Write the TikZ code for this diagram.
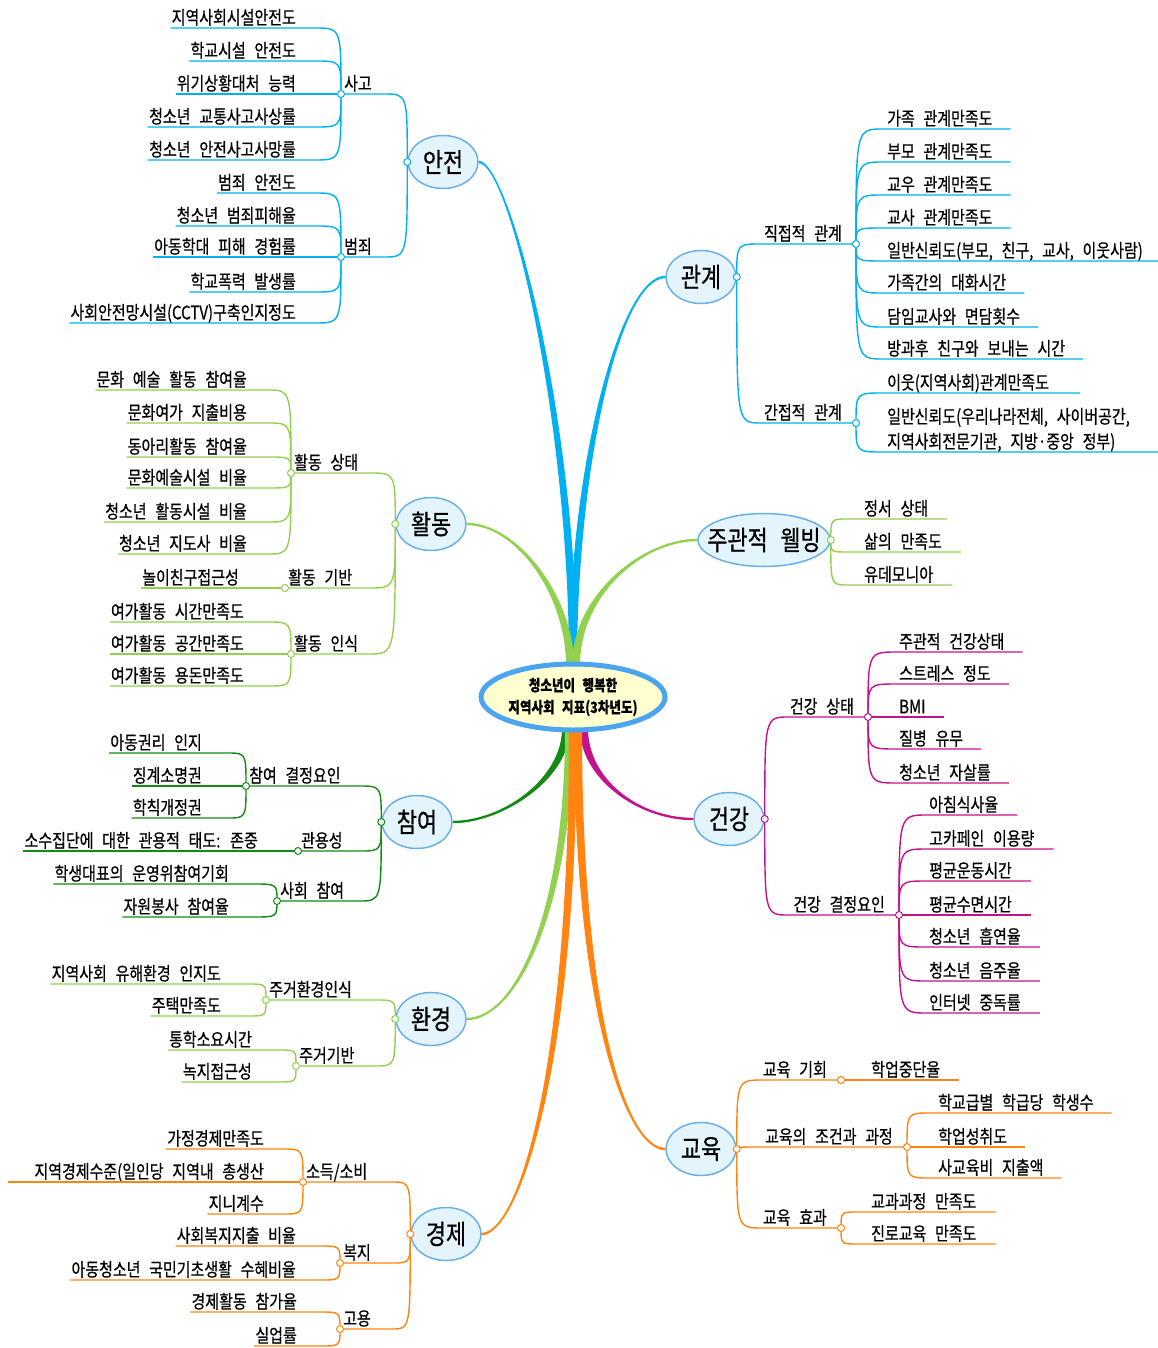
\documentclass[tikz,border=0pt]{standalone}
\usepackage{fontspec}
\setmainfont{Noto Sans CJK KR}[FakeStretch=0.81,WordSpace=2.6,FakeBold=0.6]
\usetikzlibrary{shapes.geometric,backgrounds}

\definecolor{sky}{HTML}{00B0F0}
\definecolor{leafgreen}{HTML}{92D050}
\definecolor{pine}{HTML}{138A13}
\definecolor{plum}{HTML}{C4128C}
\definecolor{amber}{HTML}{FF8412}
\definecolor{bubble}{HTML}{E4F4FD}
\definecolor{rim}{HTML}{6AAFE6}
\definecolor{cream}{HTML}{FFFFD0}
\definecolor{rootrim}{HTML}{4BA4F0}

\newcommand{\leafsize}{\fontsize{18.5}{25}\selectfont}

% tapered main branch: colour, start, end, start control, end control, side
\newcommand{\trunk}[6]{%
  \fill[#1] ([xshift=-4pt]#2) .. controls +#4 and +#5 .. ([yshift=(#6)*1.2pt]#3)
    -- ([yshift=(-1)*(#6)*1.2pt]#3) .. controls +#5 and +#4 .. ([xshift=4pt]#2) -- cycle;}

\tikzset{
  topic/.style={ellipse, draw=rim, line width=1.5pt, fill=bubble, inner xsep=1pt, inner ysep=1pt,
    minimum width=70pt, minimum height=53pt, font=\fontsize{27}{29}\selectfont},
  knot/.style={circle, draw=#1, fill=white, line width=1pt, inner sep=0pt, minimum size=7pt},
  twig/.style={draw=#1, line width=1.4pt},
  lleaf/.style={anchor=south east, inner xsep=1pt, inner ysep=1.5pt, text depth=2pt, font=\leafsize},
  rleaf/.style={lleaf, anchor=south west, align=left},
  llab/.style={lleaf, anchor=south west},
  rlab/.style={lleaf}
}

\begin{document}
\begin{tikzpicture}[x=1pt,y=-1pt]
	\useasboundingbox (0,0) rectangle (1158,1348);
	
	% centre
	\node[ellipse, draw=rootrim, line width=5pt, fill=cream, inner sep=0pt, minimum width=184pt, minimum height=66pt,
	  align=center, font=\fontsize{15.5}{22}\selectfont\bfseries] (root) at (573,697) {청소년이 행복한\\지역사회 지표(3차년도)};
	
	% topics
	\node[topic] (anjeon) at (443,162) {안전};
	\node[topic] (gwangye) at (701,277) {관계};
	\node[topic] (hwaldong) at (431,524) {활동};
	\node[topic, inner xsep=-10pt] (wellbeing) at (764,540) {주관적 웰빙};
	\node[topic] (chamyeo) at (417,822) {참여};
	\node[topic] (geongang) at (729,819) {건강};
	\node[topic] (hwangyeong) at (431,1019) {환경};
	\node[topic] (gyoyuk) at (701,1149) {교육};
	\node[topic] (gyeongje) at (446,1234) {경제};
	
	% knots on the topics
	\node[knot=sky] (anjeon-k) at (anjeon.west) {};
	\node[knot=sky] (gwangye-k) at (gwangye.east) {};
	\node[knot=leafgreen] (hwaldong-k) at (hwaldong.west) {};
	\node[knot=leafgreen] (wellbeing-k) at (wellbeing.east) {};
	\node[knot=pine] (chamyeo-k) at (chamyeo.west) {};
	\node[knot=plum] (geongang-k) at (geongang.east) {};
	\node[knot=leafgreen] (hwangyeong-k) at (hwangyeong.west) {};
	\node[knot=amber] (gyoyuk-k) at (gyoyuk.east) {};
	\node[knot=amber] (gyeongje-k) at (gyeongje.west) {};
	
	% knots of the sub-topics
	\node[knot=sky] (sago) at (341,94) {};
	\node[knot=sky] (beomjoe) at (341,257) {};
	\node[knot=sky] (jikjeop) at (856,244) {};
	\node[knot=sky] (ganjeop) at (856,423) {};
	\node[knot=leafgreen] (sangtae) at (291,473) {};
	\node[knot=leafgreen] (giban) at (285,588) {};
	\node[knot=leafgreen] (insik) at (291,654) {};
	\node[knot=pine] (gyeoljeong) at (246,786) {};
	\node[knot=pine] (gwanyong) at (298,851) {};
	\node[knot=pine] (sahoe) at (277,901) {};
	\node[knot=leafgreen] (jugeo) at (266,1000) {};
	\node[knot=leafgreen] (jugeogiban) at (296,1066) {};
	\node[knot=amber] (sodeuk) at (303,1182) {};
	\node[knot=amber] (bokji) at (340,1263) {};
	\node[knot=amber] (goyong) at (340,1329) {};
	\node[knot=plum] (gangsangtae) at (868,717) {};
	\node[knot=plum] (gangyoin) at (899,915) {};
	\node[knot=amber] (gihoe) at (841,1080) {};
	\node[knot=amber] (jogeon) at (907,1147) {};
	\node[knot=amber] (hyogwa) at (841,1228) {};
	
	% sub-topic labels
	\foreach \k/\t in {sago/사고, beomjoe/범죄, sangtae/활동 상태, giban/활동 기반, insik/활동 인식,
	  gyeoljeong/참여 결정요인, gwanyong/관용성, sahoe/사회 참여, jugeo/주거환경인식, jugeogiban/주거기반,
	  sodeuk/{소득/소비}, bokji/복지, goyong/고용}
	  \node[llab] (\k-t) at ([xshift=2pt]\k.center) {\t};
	\foreach \k/\t in {jikjeop/직접적 관계, ganjeop/간접적 관계, gangsangtae/건강 상태, gangyoin/건강 결정요인,
	  gihoe/교육 기회, jogeon/교육의 조건과 과정, hyogwa/교육 효과}
	  \node[rlab] (\k-t) at ([xshift=-13pt]\k.center) {\t};
	
	\begin{scope}[on background layer]
	% main branches
	\coordinate (up) at ([yshift=-4pt]root.north);
	\coordinate (up-l) at ([xshift=-3pt]up);
	\coordinate (up-r) at ([xshift=3pt]up);
	\coordinate (down) at ([yshift=4pt]root.south);
	\coordinate (down-l) at ([xshift=-7pt]down);
	\coordinate (down-m) at ([xshift=-4pt]down);
	\coordinate (down-r) at ([xshift=5pt]down);
	\coordinate (down-rr) at ([xshift=11pt]down);
	\trunk{sky}{up}{anjeon.east}{(0,-250)}{(30,0)}{-1}
	\trunk{sky}{up}{gwangye.west}{(0,-200)}{(-45,0)}{1}
	\trunk{leafgreen}{up-l}{hwaldong.east}{(0,-70)}{(50,0)}{-1}
	\trunk{leafgreen}{up-r}{wellbeing.west}{(0,-70)}{(-55,0)}{1}
	\trunk{pine}{down-l}{chamyeo.east}{(0,50)}{(50,0)}{1}
	\trunk{plum}{down-rr}{geongang.west}{(0,50)}{(-55,0)}{-1}
	\trunk{leafgreen}{down-m}{hwangyeong.east}{(0,180)}{(50,0)}{1}
	\trunk{amber}{down-r}{gyoyuk.west}{(0,280)}{(-40,0)}{-1}
	\trunk{amber}{down}{gyeongje.east}{(0,350)}{(35,0)}{1}
	
	% topic to sub-topic
	\foreach \s in {sago,beomjoe}
	  \draw[twig=sky] (anjeon-k.center) .. controls (anjeon-k |- \s) .. ([xshift=-23pt]anjeon-k |- \s) -- (\s.center);
	\foreach \s in {jikjeop,ganjeop}
	  \draw[twig=sky] (gwangye-k.center) .. controls (gwangye-k |- \s) .. ([xshift=24pt]gwangye-k |- \s) -- (\s.center);
	\foreach \s in {sangtae,giban,insik}
	  \draw[twig=leafgreen] (hwaldong-k.center) .. controls (hwaldong-k |- \s) .. ([xshift=-26pt]hwaldong-k |- \s) -- (\s.center);
	\foreach \s in {gyeoljeong,gwanyong,sahoe}
	  \draw[twig=pine] (chamyeo-k.center) .. controls (chamyeo-k |- \s) .. ([xshift=-22pt]chamyeo-k |- \s) -- (\s.center);
	\foreach \s in {jugeo,jugeogiban}
	  \draw[twig=leafgreen] (hwangyeong-k.center) .. controls (hwangyeong-k |- \s) .. ([xshift=-20pt]hwangyeong-k |- \s) -- (\s.center);
	\foreach \s in {sodeuk,bokji,goyong}
	  \draw[twig=amber] (gyeongje-k.center) .. controls (gyeongje-k |- \s) .. ([xshift=-18pt]gyeongje-k |- \s) -- (\s.center);
	\foreach \s in {gangsangtae,gangyoin}
	  \draw[twig=plum] (geongang-k.center) .. controls (geongang-k |- \s) .. ([xshift=24pt]geongang-k |- \s) -- (\s.center);
	\foreach \s in {gihoe,jogeon,hyogwa}
	  \draw[twig=amber] (gyoyuk-k.center) .. controls (gyoyuk-k |- \s) .. ([xshift=26pt]gyoyuk-k |- \s) -- (\s.center);
	
	% 안전
	\foreach \t/\y [count=\i] in {지역사회시설안전도/28, 학교시설 안전도/61, 위기상황대처 능력/94,
	  청소년 교통사고사상률/127, 청소년 안전사고사망률/160}{
	  \node[lleaf] (sago-\i) at (297,\y) {\t};
	  \draw[twig=sky] (sago.center) .. controls (sago |- sago-\i.south) .. ([xshift=-26pt]sago |- sago-\i.south) -- (sago-\i.south west);
	}
	\foreach \t/\y [count=\i] in {범죄 안전도/193, 청소년 범죄피해율/226, 아동학대 피해 경험률/257,
	  학교폭력 발생률/292, 사회안전망시설(CCTV)구축인지정도/323}{
	  \node[lleaf] (beomjoe-\i) at (297,\y) {\t};
	  \draw[twig=sky] (beomjoe.center) .. controls (beomjoe |- beomjoe-\i.south) .. ([xshift=-26pt]beomjoe |- beomjoe-\i.south) -- (beomjoe-\i.south west);
	}
	
	% 관계
	\foreach \t/\y [count=\i] in {가족 관계만족도/129, 부모 관계만족도/162, 교우 관계만족도/195, 교사 관계만족도/228,
	  {일반신뢰도(부모, 친구, 교사, 이웃사람)}/261, 가족간의 대화시간/293, 담임교사와 면담횟수/327, 방과후 친구와 보내는 시간/359}{
	  \node[rleaf] (jikjeop-\i) at (886,\y) {\t};
	  \draw[twig=sky] (jikjeop.center) .. controls (jikjeop |- jikjeop-\i.south) .. ([xshift=27pt]jikjeop |- jikjeop-\i.south) -- ([xshift=17pt]jikjeop-\i.south east);
	}
	\foreach \t/\y [count=\i] in {이웃(지역사회)관계만족도/393,
	  {일반신뢰도(우리나라전체, 사이버공간,\\지역사회전문기관, 지방·중앙 정부)}/452}{
	  \node[rleaf] (ganjeop-\i) at (886,\y) {\t};
	  \draw[twig=sky] (ganjeop.center) .. controls (ganjeop |- ganjeop-\i.south) .. ([xshift=27pt]ganjeop |- ganjeop-\i.south) -- ([xshift=30pt]ganjeop-\i.south east);
	}
	
	% 활동
	\foreach \t/\y [count=\i] in {문화 예술 활동 참여율/390, 문화여가 지출비용/423, 동아리활동 참여율/457,
	  문화예술시설 비율/488, 청소년 활동시설 비율/522, 청소년 지도사 비율/554}{
	  \node[lleaf] (sangtae-\i) at (248,\y) {\t};
	  \draw[twig=leafgreen] (sangtae.center) .. controls (sangtae |- sangtae-\i.south) .. ([xshift=-23pt]sangtae |- sangtae-\i.south) -- (sangtae-\i.south west);
	}
	\node[lleaf] (giban-1) at (240,588) {놀이친구접근성};
	\draw[twig=leafgreen] (giban.center) -- (giban-1.south west);
	\foreach \t/\y [count=\i] in {여가활동 시간만족도/622, 여가활동 공간만족도/654, 여가활동 용돈만족도/686}{
	  \node[lleaf] (insik-\i) at (245,\y) {\t};
	  \draw[twig=leafgreen] (insik.center) .. controls (insik |- insik-\i.south) .. ([xshift=-23pt]insik |- insik-\i.south) -- (insik-\i.south west);
	}
	
	% 주관적 웰빙
	\foreach \t/\y [count=\i] in {정서 상태/519, 삶의 만족도/552, 유데모니아/585}{
	  \node[rleaf] (wellbeing-\i) at (863,\y) {\t};
	  \draw[twig=leafgreen] (wellbeing-k.center) .. controls (wellbeing-k |- wellbeing-\i.south) .. ([xshift=17pt]wellbeing-k |- wellbeing-\i.south) -- ([xshift=18pt]wellbeing-\i.south east);
	}
	
	% 참여
	\foreach \t/\y [count=\i] in {아동권리 인지/753, 징계소명권/786, 학칙개정권/818}{
	  \node[lleaf] (gyeoljeong-\i) at (203,\y) {\t};
	  \draw[twig=pine] (gyeoljeong.center) .. controls (gyeoljeong |- gyeoljeong-\i.south) .. ([xshift=-19pt]gyeoljeong |- gyeoljeong-\i.south) -- (gyeoljeong-\i.south west);
	}
	\node[lleaf] (gwanyong-1) at (259,851) {소수집단에 대한 관용적 태도: 존중};
	\draw[twig=pine] (gwanyong.center) -- (gwanyong-1.south west);
	\foreach \t/\y [count=\i] in {학생대표의 운영위참여기회/884, 자원봉사 참여율/917}{
	  \node[lleaf] (sahoe-\i) at (230,\y) {\t};
	  \draw[twig=pine] (sahoe.center) .. controls (sahoe |- sahoe-\i.south) .. ([xshift=-24pt]sahoe |- sahoe-\i.south) -- (sahoe-\i.south west);
	}
	
	% 건강
	\foreach \t/\y [count=\i] in {주관적 건강상태/652, 스트레스 정도/684, BMI/717, 질병 유무/749, 청소년 자살률/783}{
	  \node[rleaf] (gangsangtae-\i) at (898,\y) {\t};
	  \draw[twig=plum] (gangsangtae.center) .. controls (gangsangtae |- gangsangtae-\i.south) .. ([xshift=29pt]gangsangtae |- gangsangtae-\i.south) -- ([xshift=17pt]gangsangtae-\i.south east);
	}
	\foreach \t/\y [count=\i] in {아침식사율/815, 고카페인 이용량/849, 평균운동시간/881, 평균수면시간/915,
	  청소년 흡연율/947, 청소년 음주율/981, 인터넷 중독률/1013}{
	  \node[rleaf] (gangyoin-\i) at (928,\y) {\t};
	  \draw[twig=plum] (gangyoin.center) .. controls (gangyoin |- gangyoin-\i.south) .. ([xshift=28pt]gangyoin |- gangyoin-\i.south) -- ([xshift=18pt]gangyoin-\i.south east);
	}
	
	% 환경
	\foreach \t/\y [count=\i] in {지역사회 유해환경 인지도/984, 주택만족도/1016}{
	  \node[lleaf] (jugeo-\i) at (222,\y) {\t};
	  \draw[twig=leafgreen] (jugeo.center) .. controls (jugeo |- jugeo-\i.south) .. ([xshift=-18pt]jugeo |- jugeo-\i.south) -- (jugeo-\i.south west);
	}
	\foreach \t/\y [count=\i] in {통학소요시간/1050, 녹지접근성/1082}{
	  \node[lleaf] (jugeogiban-\i) at (253,\y) {\t};
	  \draw[twig=leafgreen] (jugeogiban.center) .. controls (jugeogiban |- jugeogiban-\i.south) .. ([xshift=-17pt]jugeogiban |- jugeogiban-\i.south) -- (jugeogiban-\i.south west);
	}
	
	% 교육
	\node[rleaf] (gihoe-1) at (870,1080) {학업중단율};
	\draw[twig=amber] (gihoe.center) -- ([xshift=18pt]gihoe-1.south east);
	\foreach \t/\y [count=\i] in {학교급별 학급당 학생수/1113, 학업성취도/1147, 사교육비 지출액/1178}{
	  \node[rleaf] (jogeon-\i) at (937,\y) {\t};
	  \draw[twig=amber] (jogeon.center) .. controls (jogeon |- jogeon-\i.south) .. ([xshift=23pt]jogeon |- jogeon-\i.south) -- ([xshift=17pt]jogeon-\i.south east);
	}
	\foreach \t/\y [count=\i] in {교과과정 만족도/1212, 진로교육 만족도/1244}{
	  \node[rleaf] (hyogwa-\i) at (870,\y) {\t};
	  \draw[twig=amber] (hyogwa.center) .. controls (hyogwa |- hyogwa-\i.south) .. ([xshift=16pt]hyogwa |- hyogwa-\i.south) -- ([xshift=18pt]hyogwa-\i.south east);
	}
	
	% 경제
	\foreach \t/\y [count=\i] in {가정경제만족도/1149, 지역경제수준(일인당 지역내 총생산/1182, 지니계수/1214}{
	  \node[lleaf] (sodeuk-\i) at (265,\y) {\t};
	  \draw[twig=amber] (sodeuk.center) .. controls (sodeuk |- sodeuk-\i.south) .. ([xshift=-20pt]sodeuk |- sodeuk-\i.south) -- (sodeuk-\i.south west);
	}
	\coordinate (cutoff) at (8,1182);
	\draw[twig=amber] (sodeuk-2.south west) -- (cutoff);
	\foreach \t/\y [count=\i] in {사회복지지출 비율/1246, 아동청소년 국민기초생활 수혜비율/1280}{
	  \node[lleaf] (bokji-\i) at (297,\y) {\t};
	  \draw[twig=amber] (bokji.center) .. controls (bokji |- bokji-\i.south) .. ([xshift=-20pt]bokji |- bokji-\i.south) -- (bokji-\i.south west);
	}
	\foreach \t/\y [count=\i] in {경제활동 참가율/1312, 실업률/1346}{
	  \node[lleaf] (goyong-\i) at (298,\y) {\t};
	  \draw[twig=amber] (goyong.center) .. controls (goyong |- goyong-\i.south) .. ([xshift=-20pt]goyong |- goyong-\i.south) -- (goyong-\i.south west);
	}
	\end{scope}
	
\end{tikzpicture}
\end{document}
